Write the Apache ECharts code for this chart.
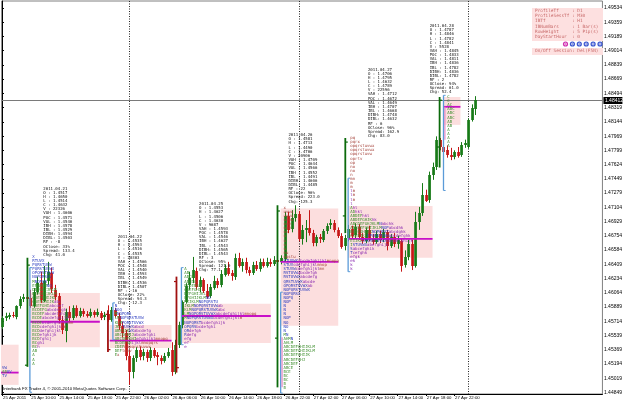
<!DOCTYPE html>
<html><head><meta charset="utf-8">
<script src="https://cdn.jsdelivr.net/npm/echarts@6/dist/echarts.min.js"></script>
<style>html,body{margin:0;padding:0;background:#fff}#c{width:625px;height:403px}</style>
</head><body><div id="c"></div>
<script>
// ---------- axis ticks ----------
const xTickLabels = ["25 Apr 2011","25 Apr 10:00","25 Apr 14:00","25 Apr 18:00","25 Apr 22:00","26 Apr 02:00","26 Apr 06:00","26 Apr 10:00","26 Apr 14:00","26 Apr 18:00","26 Apr 22:00","27 Apr 02:00","27 Apr 06:00","27 Apr 10:00","27 Apr 14:00","27 Apr 18:00","27 Apr 22:00"];
const yTickLabels = ["1.44849","1.45019","1.45194","1.45369","1.45539","1.45714","1.45889","1.46064","1.46234","1.46409","1.46584","1.46754","1.46929","1.47104","1.47279","1.47449","1.47624","1.47799","1.47969","1.48144","1.48319","1.48494","1.48669","1.48839","1.49014","1.49189","1.49359","1.49534"];
const daySeparatorBars = [36, 84, 132];
const bidPrice = 1.48412;

// ---------- M30 candles, 25 Apr 06:00 -> 28 Apr 01:00 ----------
const opens = [1.4565,1.4576,1.4577,1.4579,1.4577,1.4590,1.4599,1.4601,1.4600,1.4590,1.4607,1.4618,1.4597,1.4621,1.4630,1.4610,1.4602,1.4573,1.4560,1.4583,1.4576,1.4588,1.4578,1.4584,1.4580,1.4578,1.4583,1.4579,1.4582,1.4576,1.4580,1.4573,1.4585,1.4578,1.4566,1.4557,1.4529,1.4510,1.4527,1.4537,1.4529,1.4534,1.4527,1.4537,1.4530,1.4527,1.4523,1.4529,1.4537,1.4510,1.4543,1.4567,1.4595,1.4615,1.4624,1.4633,1.4613,1.4622,1.4608,1.4602,1.4613,1.4621,1.4616,1.4629,1.4637,1.4630,1.4626,1.4649,1.4639,1.4644,1.4634,1.4630,1.4640,1.4635,1.4644,1.4639,1.4644,1.4641,1.4646,1.4644,1.4648,1.4700,1.4683,1.4697,1.4702,1.4672,1.4683,1.4685,1.4679,1.4667,1.4674,1.4671,1.4682,1.4688,1.4691,1.4683,1.4676,1.4663,1.4673,1.4684,1.4676,1.4686,1.4674,1.4669,1.4683,1.4673,1.4668,1.4678,1.4671,1.4680,1.4663,1.4674,1.4666,1.4669,1.4640,1.4650,1.4666,1.4639,1.4693,1.4704,1.4726,1.4719,1.4750,1.4760,1.4793,1.4784,1.4780,1.4774,1.4772,1.4778,1.4774,1.4786,1.4784,1.4817,1.4830];
const highs = [1.4578,1.4582,1.4582,1.4583,1.4591,1.4602,1.4605,1.4606,1.4610,1.4612,1.4626,1.4632,1.4639,1.4644,1.4637,1.4616,1.4606,1.4578,1.4587,1.4590,1.4591,1.4591,1.4588,1.4587,1.4584,1.4587,1.4585,1.4587,1.4584,1.4583,1.4591,1.4589,1.4588,1.4582,1.4571,1.4561,1.4537,1.4530,1.4540,1.4541,1.4538,1.4537,1.4540,1.4539,1.4534,1.4530,1.4533,1.4539,1.4546,1.4549,1.4571,1.4597,1.4618,1.4632,1.4650,1.4637,1.4626,1.4624,1.4617,1.4617,1.4627,1.4624,1.4634,1.4641,1.4644,1.4634,1.4654,1.4655,1.4648,1.4649,1.4638,1.4644,1.4645,1.4648,1.4648,1.4649,1.4648,1.4651,1.4650,1.4652,1.4705,1.4705,1.4707,1.4713,1.4706,1.4689,1.4695,1.4707,1.4683,1.4677,1.4678,1.4684,1.4691,1.4696,1.4695,1.4686,1.4679,1.4677,1.4689,1.4688,1.4691,1.4690,1.4679,1.4686,1.4688,1.4678,1.4682,1.4682,1.4684,1.4683,1.4678,1.4679,1.4676,1.4673,1.4658,1.4671,1.4671,1.4705,1.4711,1.4740,1.4732,1.4754,1.4765,1.4797,1.4795,1.4793,1.4786,1.4783,1.4780,1.4784,1.4790,1.4793,1.4819,1.4836,1.4846];
const lows = [1.4562,1.4572,1.4574,1.4576,1.4574,1.4587,1.4595,1.4596,1.4588,1.4588,1.4604,1.4594,1.4595,1.4616,1.4606,1.4597,1.4569,1.4556,1.4546,1.4571,1.4573,1.4576,1.4576,1.4577,1.4576,1.4576,1.4576,1.4577,1.4573,1.4573,1.4571,1.4571,1.4576,1.4561,1.4552,1.4524,1.4494,1.4502,1.4522,1.4524,1.4524,1.4522,1.4523,1.4527,1.4518,1.4519,1.4521,1.4527,1.4505,1.4507,1.4539,1.4563,1.4593,1.4610,1.4618,1.4610,1.4607,1.4606,1.4599,1.4600,1.4610,1.4612,1.4613,1.4626,1.4627,1.4621,1.4622,1.4637,1.4632,1.4630,1.4627,1.4628,1.4633,1.4632,1.4637,1.4637,1.4638,1.4639,1.4640,1.4641,1.4644,1.4679,1.4680,1.4693,1.4669,1.4665,1.4668,1.4676,1.4663,1.4663,1.4667,1.4668,1.4678,1.4684,1.4680,1.4673,1.4660,1.4658,1.4669,1.4672,1.4673,1.4671,1.4666,1.4667,1.4669,1.4665,1.4666,1.4667,1.4668,1.4658,1.4661,1.4662,1.4660,1.4632,1.4637,1.4646,1.4634,1.4637,1.4683,1.4700,1.4717,1.4716,1.4744,1.4756,1.4780,1.4773,1.4771,1.4768,1.4769,1.4771,1.4772,1.4783,1.4782,1.4815,1.4823];
const closes = [1.4576,1.4578,1.4579,1.4578,1.4590,1.4599,1.4601,1.4599,1.4590,1.4607,1.4618,1.4597,1.4621,1.4632,1.4610,1.4602,1.4573,1.4561,1.4583,1.4576,1.4588,1.4578,1.4584,1.4580,1.4578,1.4583,1.4579,1.4583,1.4576,1.4579,1.4573,1.4585,1.4578,1.4566,1.4557,1.4529,1.4510,1.4527,1.4537,1.4529,1.4534,1.4527,1.4537,1.4530,1.4527,1.4523,1.4529,1.4534,1.4510,1.4543,1.4567,1.4595,1.4615,1.4624,1.4634,1.4613,1.4622,1.4608,1.4601,1.4613,1.4621,1.4616,1.4629,1.4637,1.4630,1.4626,1.4649,1.4639,1.4644,1.4634,1.4630,1.4640,1.4635,1.4644,1.4639,1.4644,1.4641,1.4646,1.4644,1.4649,1.4700,1.4683,1.4697,1.4702,1.4672,1.4683,1.4685,1.4679,1.4667,1.4674,1.4671,1.4682,1.4688,1.4691,1.4683,1.4676,1.4663,1.4673,1.4684,1.4676,1.4686,1.4674,1.4669,1.4683,1.4673,1.4668,1.4678,1.4671,1.4680,1.4663,1.4674,1.4666,1.4671,1.4639,1.4650,1.4666,1.4639,1.4693,1.4704,1.4726,1.4719,1.4750,1.4760,1.4793,1.4784,1.4778,1.4774,1.4772,1.4778,1.4773,1.4786,1.4789,1.4817,1.4832,1.4841];

// ---------- market profiles (index 0 = partial profile at left edge) ----------
const vaStart  = [-0.5, 8.0, 30.5, 50.8, 78.9, 98.0, 125.0];
const vaEnd    = [4.7, 27.7, 48.0, 76.1, 95.2, 121.9, 129.8];
const vaHigh   = [1.4543, 1.4606, 1.4567, 1.4593, 1.4709, 1.4712, 1.4845];
const vaLow    = [1.4494, 1.4540, 1.4539, 1.4545, 1.4566, 1.4649, 1.4811];
const pocPrice = [1.4509, 1.4571, 1.4548, 1.4578, 1.4644, 1.4672, 1.4833];
const tpoStart = [0.0, 8.6, 31.9, 51.6, 79.7, 98.6, 126.1];
const tpoTop   = [1.4515, 1.4650, 1.4590, 1.4635, 1.4710, 1.4795, 1.4845];
const rowHeight = 0.0005;
const tpoRows = [
 ["VW","ABUV","TV"],
 ["X","RTUVX","PQRSTUVW","PQRSTUVWX","OPQRSTUVW","NOPQRSUV","MNOPQR","EFGHLMNO","DEFGHIJKLM","DEFGHIJKLM","CDEFGHIJKL","CDEFGHIJKabc","CDEFGHIabcdef","BCDEFGabcdefgh","BCDEFabcdefghij","BCDEabcdefghijkl","BCDEbcdefghijklmn","BCDcdefghijklm","BCDdefghijkl","BCDefghijk","BCDfghij","BCghi","BCh","AB","A","A","A"],
 ["N","NOQ","MNOPQRS","LMNOPQRSTUVW","KLMPQRSTUVWX","JKLTUVWXabcd","ABHIJKWXabcdefg","ABCDGHIJabcdefghi","ABCDEFGHIefghijklmnopq","BCDEFGHijklmnopqrs","CDEFnopqrstuvwx","DEFtuvw","Ex"],
 ["A","AB","ABCD","ABCDG","BCDEFGH","CDEFGHI","DEFGHIJKL","EFGHIJKLMNO","HIJKLMNOPQRSTU","JKLMNOPQRSTUVWab","KLMNOPQRSTUVWXabc","LMNOPQRSTUVWXabcdefghijklmnopq","MNOPQRSTUVWXbcdefghijklm","NOPQRSTbcdefghijk","OPQRSbcdefghi","QRdefgh","Rdefg","efg","ef","e"],
 ["x","uvwx","uvwx","uvwx","uvw","uvw","uv","u","u","u","u","nu","nqstu","STUVWXabcdefghijklmnopq","STUVcdefghijklmnop","STUVWcdefghijklmn","RSTUVWabcdefgh","RSTUVWXabcdefg","QRSTUVWXabcde","OPQRSTUVWXab","NOPQRSTUVWX","NOPQRSX","NOPQ","NOP","N","N","N","NOP","NO","NO","N","MN","AHMN","AHLM","ABCDEFGHIJKLM","ABCDEFGHIJKLM","ABCDEFGHIJK","ABCDEFGHJ","ABCDEF","ABCE","BCE","BC","BC","B","B"],
 ["pq","pqrx","opqrstuvwx","opqrstuvwx","opqrstuvw","oprtv","op","no","no","n","mn","m","m","lm","lm","lm","l","Ahl","ADhkl","ABDEFhkl","ABDEFGHJKhk","ABCDEFGHJKLMNabchk","ABCDEFGHIJKLMNOPabcdhk","BCDEGHIJKNOPQRSTabcdghk","CEHIJKLOPQRSTUVWabcdefghk","EIJKLOPQRSTUVWXabcdefghijk","ISTUVWXabefghijk","Sabcefghik","Tcefghk","efgk","ek","k","k"],
 ["C","C","AC","ABC","ABC","ABC","AB","AB","A","A","A","A","A"]
];
// daily range bars and IB lines (profiles 1..6)
const rangeBar  = [7.2, 30.0, 49.4, 78.0, 97.2, 123.9];
const rangeHigh = [1.4649, 1.4585, 1.4626, 1.4713, 1.4795, 1.4845];
const rangeLow  = [1.4516, 1.4534, 1.4509, 1.4491, 1.4679, 1.4759];
const dayOpen   = [1.4518, 1.4580, 1.4620, 1.4551, 1.4700, 1.4784];
const dayClose  = [1.4640, 1.4537, 1.4515, 1.4706, 1.4790, 1.4841];
const ibBar  = [7.9, 31.4, 50.8, 78.9, 98.0, 125.0];
const ibHigh = [1.4637, 1.4594, 1.4637, 1.4607, 1.4746, 1.4847];
const ibLow  = [1.4485, 1.4549, 1.4543, 1.4484, 1.4632, 1.4731];
const extBar  = [79.3, 125.4];
const extHigh = [1.4552, 1.4833];
const extLow  = [1.4491, 1.4793];
// stats blocks
const statsBar = [11.7, 32.8, 55.8, 81.1, 103.6, 121.1];
const statsTop = [1.4736, 1.4677, 1.4717, 1.4801, 1.4881, 1.4934];
const statsLines = [
 ["2011.04.21","O : 1.4517","H : 1.4650","L : 1.4514","C : 1.4632","V : 22326","VAH : 1.4606","POC : 1.4571","VAL : 1.4540","IBH : 1.4578","IBL : 1.4529","DIBH: 1.4594","DIBL: 1.4503","RF : -8","OClose: 33%","Spread: 133.4","Chg: 41.0"],
 ["2011.04.22","O : 1.4535","H : 1.4593","L : 1.4516","C : 1.4535","V : 20303","VAH : 1.4566","POC : 1.4548","VAL : 1.4540","IBH : 1.4593","IBL : 1.4549","DIBH: 1.4536","DIBL: 1.4507","RF : -16","OClose: 22%","Spread: 94.3","Chg: -12.3"],
 ["2011.04.25","O : 1.4553","H : 1.4627","L : 1.4506","C : 1.4630","V : 9687","VAH : 1.4593","POC : 1.4578","VAL : 1.4546","IBH : 1.4627","IBL : 1.4543","DIBH: 1.4565","DIBL: 1.4543","RF : 3","OClose: 95%","Spread: 121.0","Chg: 77.1"],
 ["2011.04.26","O : 1.4581","H : 1.4713","L : 1.4490","C : 1.4706","V : 20906","VAH : 1.4709","POC : 1.4644","VAL : 1.4566","IBH : 1.4552","IBL : 1.4491","DIBH: 1.4606","DIBL: 1.4485","RF : 22","OClose: 96%","Spread: 223.0","Chg: 125.3"],
 ["2011.04.27","O : 1.4706","H : 1.4795","L : 1.4632","C : 1.4789","V : 22596","VAH : 1.4712","POC : 1.4672","VAL : 1.4649","IBH : 1.4707","IBL : 1.4668","DIBH: 1.4748","DIBL: 1.4632","RF : 6","OClose: 96%","Spread: 162.9","Chg: 83.0"],
 ["2011.04.28","O : 1.4787","H : 1.4846","L : 1.4782","C : 1.4841","V : 5528","VAH : 1.4845","POC : 1.4833","VAL : 1.4811","IBH : 1.4836","IBL : 1.4782","DIBH: 1.4836","DIBL: 1.4782","RF : 2","OClose: 94%","Spread: 61.0","Chg: 52.4"]
];
const panelLines = ["ProfileTf     : D1","ProfileSessTf : M30","IBTf          : H1","IBNumBars     : 1 Bar(s)","RowHeight     : 5 Pip(s)","DayStartHour  : 0"];
const panelFooter = "On/Off Session: Del(F5N)";
const copyright = "Interbank FX Trader 4, \u00a9 2001-2010 MetaQuotes Software Corp.";

// ---------- styling ----------
const UP = '#177a17', DOWN = '#c61616';
const TPO_COLORS = ['#3f8f2f','#2b3cbf','#8a2ab0','#a5423a'];
const MONO = 'DejaVu Sans Mono';
const TPO_FS = 4, CHAR_W = 4 * 0.6021;

function tpoClass(ch){
  if (ch >= 'A' && ch <= 'M') return 0;
  if (ch >= 'N' && ch <= 'Z') return 1;
  if (ch >= 'a' && ch <= 'l') return 2;
  return 3;
}

const candleData = opens.map((o, i) => [i, o, closes[i], lows[i], highs[i]]);
const vaData = vaStart.map((s, i) => [s, vaHigh[i], vaEnd[i], vaLow[i], pocPrice[i]]);
const tpoItems = [];
tpoRows.forEach((rows, p) => rows.forEach((t, k) => tpoItems.push({x: tpoStart[p], y: tpoTop[p] - k * rowHeight, t})));
const rangeData = rangeBar.map((b, i) => [b, rangeHigh[i], rangeLow[i], dayOpen[i], dayClose[i]]);
const ibData = ibBar.map((b, i) => [b, ibHigh[i], ibLow[i]]);
const extData = extBar.map((b, i) => [b, extHigh[i], extLow[i]]);
const statsData = statsBar.map((b, i) => [b, statsTop[i]]);

const chart = echarts.init(document.getElementById('c'), null, {renderer: 'canvas'});

const graphic = [];
graphic.push({type:'rect', left:532, top:8, shape:{width:71, height:33}, style:{fill:'#fde0e0'}, z:50});
panelLines.forEach((t, k) => graphic.push({type:'text', left:535, top:8.5 + k*5.3, style:{text:t, fill:'#c86a6a', fontSize:4.4, fontFamily:MONO}, z:51}));
['#d030b0','#3a55d0','#3a55d0','#3a55d0','#3a55d0','#3a55d0'].forEach((c, k) => {
  graphic.push({type:'circle', shape:{cx:565.5 + k*6.9, cy:44, r:2.6}, style:{fill:c}, z:51});
  graphic.push({type:'circle', shape:{cx:565.5 + k*6.9, cy:44, r:1.0}, style:{fill:'none', stroke:'#fff', lineWidth:0.7}, z:52});
});
graphic.push({type:'rect', left:532, top:48, shape:{width:71, height:7}, style:{fill:'#fde0e0'}, z:50});
graphic.push({type:'text', left:535, top:49.2, style:{text:panelFooter, fill:'#c86a6a', fontSize:4.4, fontFamily:MONO}, z:51});
graphic.push({type:'text', left:3, top:386.5, style:{text:copyright, fill:'#000', fontSize:4.3, fontFamily:'Liberation Sans'}, z:51});

const option = {
  animation: false,
  backgroundColor: '#fff',
  grid: {left: 1, right: 19, top: 1, bottom: 9, show: true, borderColor: '#808080', borderWidth: 1},
  xAxis: {
    type: 'value', min: -0.1, max: 170,
    axisLine: {show: true, lineStyle: {color: '#000'}},
    axisTick: {show: true, length: 2, lineStyle: {color: '#000'}, customValues: xTickLabels.map((_, k) => k * 8)},
    axisLabel: {show: true, customValues: xTickLabels.map((_, k) => k * 8), formatter: v => xTickLabels[Math.round(v / 8)] || '',
      align: 'left', margin: 1.5, fontSize: 4.3, color: '#000', fontFamily: 'Liberation Sans', padding: [0,0,0,1]},
    splitLine: {show: false}
  },
  yAxis: {
    type: 'value', position: 'right', min: 1.44829, max: 1.49620, scale: true,
    axisLine: {show: true, lineStyle: {color: '#000'}},
    axisTick: {show: true, inside: false, length: 2, lineStyle: {color: '#000'}, customValues: yTickLabels.map(Number)},
    axisLabel: {show: true, customValues: yTickLabels.map(Number), formatter: v => Number(v).toFixed(5),
      margin: 1.5, fontSize: 5, color: '#000', fontFamily: 'Liberation Sans'},
    splitLine: {show: false}
  },
  graphic,
  series: [
    { // value area boxes
      type: 'custom', z: 1, clip: true, data: vaData,
      renderItem: (params, api) => {
        const a = api.coord([api.value(0), api.value(1)]), b = api.coord([api.value(2), api.value(3)]);
        return {type: 'rect', shape: {x: a[0], y: a[1], width: b[0] - a[0], height: b[1] - a[1]}, style: {fill: '#fcdede'}};
      }
    },
    { // day separators
      type: 'custom', z: 2, clip: true, data: daySeparatorBars.map(b => [b, 1.47]),
      renderItem: (params, api) => {
        const cs = params.coordSys; const x = Math.round(api.coord([api.value(0), 1.47])[0]) + 0.5;
        return {type: 'line', shape: {x1: x, y1: cs.y, x2: x, y2: cs.y + cs.height}, style: {stroke: '#222', lineWidth: 1, lineDash: [1, 1.5]}};
      }
    },
    { // bid line
      type: 'custom', z: 2, clip: false, data: [[85, bidPrice]],
      renderItem: (params, api) => {
        const cs = params.coordSys; const y = Math.round(api.coord([85, api.value(1)])[1]) + 0.5;
        return {type: 'group', children: [
          {type: 'line', shape: {x1: cs.x, y1: y, x2: cs.x + cs.width, y2: y}, style: {stroke: '#7a7a7a', lineWidth: 1}},
          {type: 'rect', shape: {x: cs.x + cs.width + 1, y: y - 3.5, width: 19, height: 7}, style: {fill: '#000'}},
          {type: 'text', x: cs.x + cs.width + 2.5, y: y, style: {text: bidPrice.toFixed(5), fill: '#fff', fontSize: 5, fontFamily: 'Liberation Sans', align: 'left', verticalAlign: 'middle'}}
        ]};
      }
    },
    { // candles
      type: 'custom', z: 3, clip: true, data: candleData,
      renderItem: (params, api) => {
        const i = api.value(0), o = api.value(1), c = api.value(2), l = api.value(3), h = api.value(4);
        const pH = api.coord([i, h]), pL = api.coord([i, l]), pO = api.coord([i, o]), pC = api.coord([i, c]);
        const cx = Math.round(pH[0]);
        const col = c >= o ? UP : DOWN;
        const top = Math.round(Math.min(pO[1], pC[1]));
        const hgt = Math.max(1, Math.round(Math.abs(pO[1] - pC[1])));
        return {type: 'group', children: [
          {type: 'line', shape: {x1: cx + 0.5, y1: pH[1], x2: cx + 0.5, y2: pL[1]}, style: {stroke: col, lineWidth: 1}},
          {type: 'rect', shape: {x: cx - 0.8, y: top, width: 2.7, height: hgt}, style: {fill: col}}
        ]};
      }
    },
    { // POC lines
      type: 'custom', z: 4, clip: true, data: vaData,
      renderItem: (params, api) => {
        const a = api.coord([api.value(0), api.value(4)]), b = api.coord([api.value(2), api.value(4)]);
        return {type: 'line', shape: {x1: a[0], y1: a[1], x2: b[0], y2: b[1]}, style: {stroke: '#c810c8', lineWidth: 1.8}};
      }
    },
    { // daily range bars
      type: 'custom', z: 4, clip: true, data: rangeData,
      renderItem: (params, api) => {
        const b = api.value(0), o = api.value(3), c = api.value(4);
        const hi = api.coord([b, api.value(1)]), lo = api.coord([b, api.value(2)]);
        const po = api.coord([b, o]), pc = api.coord([b, c]);
        const tl = api.size([0.7, 0])[0];
        const col = c >= o ? '#0b6a0b' : '#a01010';
        return {type: 'group', children: [
          {type: 'line', shape: {x1: hi[0], y1: hi[1], x2: lo[0], y2: lo[1]}, style: {stroke: col, lineWidth: 1.8}},
          {type: 'line', shape: {x1: po[0] - tl, y1: po[1], x2: po[0], y2: po[1]}, style: {stroke: col, lineWidth: 1.2}},
          {type: 'line', shape: {x1: pc[0], y1: pc[1], x2: pc[0] + tl, y2: pc[1]}, style: {stroke: col, lineWidth: 1.2}}
        ]};
      }
    },
    { // initial balance lines
      type: 'custom', z: 4, clip: true, data: ibData,
      renderItem: (params, api) => {
        const hi = api.coord([api.value(0), api.value(1)]), lo = api.coord([api.value(0), api.value(2)]);
        const tl = api.size([0.6, 0])[0];
        return {type: 'group', children: [
          {type: 'line', shape: {x1: hi[0], y1: hi[1], x2: lo[0], y2: lo[1]}, style: {stroke: '#5b9bd8', lineWidth: 1.3}},
          {type: 'line', shape: {x1: hi[0], y1: hi[1], x2: hi[0] + tl, y2: hi[1]}, style: {stroke: '#5b9bd8', lineWidth: 1}},
          {type: 'line', shape: {x1: lo[0], y1: lo[1], x2: lo[0] + tl, y2: lo[1]}, style: {stroke: '#5b9bd8', lineWidth: 1}}
        ]};
      }
    },
    { // range extension lines
      type: 'custom', z: 4, clip: true, data: extData,
      renderItem: (params, api) => {
        const hi = api.coord([api.value(0), api.value(1)]), lo = api.coord([api.value(0), api.value(2)]);
        return {type: 'line', shape: {x1: hi[0], y1: hi[1], x2: lo[0], y2: lo[1]}, style: {stroke: '#e58ac4', lineWidth: 1.2}};
      }
    },
    { // TPO letters
      type: 'custom', z: 5, clip: true, data: tpoItems.map(r => [r.x, r.y]),
      renderItem: (params, api) => {
        const item = tpoItems[params.dataIndex];
        const p = api.coord([api.value(0), api.value(1)]);
        const children = [];
        let start = 0;
        for (let k = 1; k <= item.t.length; k++) {
          if (k === item.t.length || tpoClass(item.t[k]) !== tpoClass(item.t[start])) {
            children.push({type: 'text', x: p[0] + start * CHAR_W, y: p[1],
              style: {text: item.t.slice(start, k), fill: TPO_COLORS[tpoClass(item.t[start])], fontSize: TPO_FS, fontFamily: MONO, align: 'left', verticalAlign: 'middle'}});
            start = k;
          }
        }
        return {type: 'group', children};
      }
    },
    { // stats blocks
      type: 'custom', z: 5, clip: true, data: statsData,
      renderItem: (params, api) => {
        const p = api.coord([api.value(0), api.value(1)]);
        return {type: 'text', x: p[0], y: p[1],
          style: {text: statsLines[params.dataIndex].join('\n'), fill: '#111', fontSize: 4, lineHeight: 4.15, fontFamily: MONO, align: 'left', verticalAlign: 'top'}};
      }
    }
  ]
};
chart.setOption(option);
</script>
</body></html>
